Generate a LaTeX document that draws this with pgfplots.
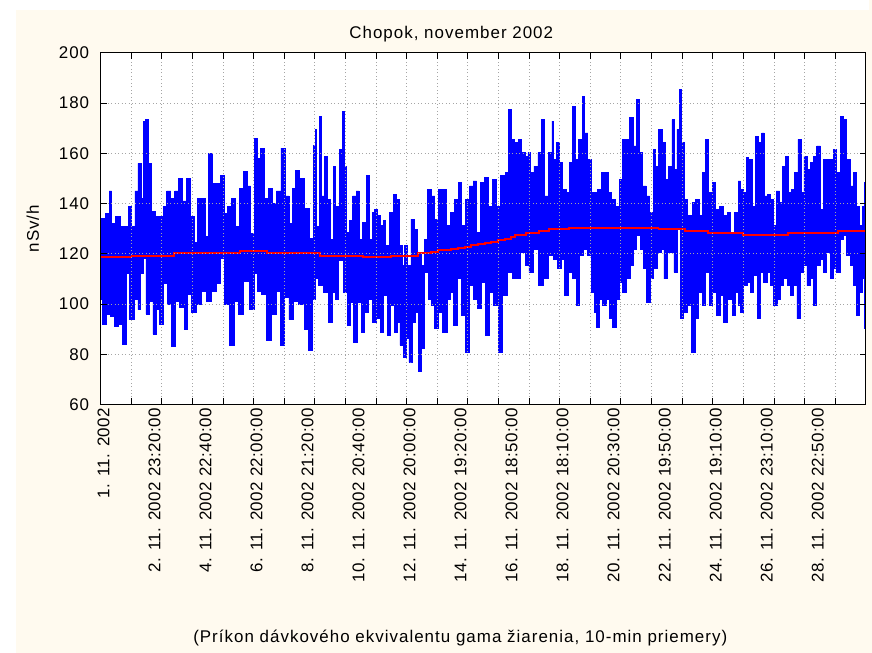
\documentclass[border=0pt]{standalone}
\usepackage{fontspec}
\setmainfont{Liberation Sans}[LetterSpace=6]
\newfontfamily\tickfamily{Liberation Sans}[LetterSpace=2.5]
\usepackage{pgfplots}
\pgfplotsset{compat=1.18}
\usepackage{pgfplotstable}
\usepgfplotslibrary{fillbetween}
\definecolor{panel}{RGB}{255,250,239}
\definecolor{gridc}{RGB}{165,165,165}
\newcommand{\chartfont}{\fontsize{17bp}{20bp}\selectfont}
\newcommand{\tickfont}{\tickfamily\fontsize{17bp}{20bp}\selectfont}

% upper envelope of the 10-min series (px = image column, val = nSv/h)
\pgfplotstableread{
px val
101 134
104 134
108 136
111 145
113 132
118 135
123 131
127 131
130 139
134 131
137 145
140 156
143 142
145 172.8
147 173.5
150 156
153 137
158 135
163 135
165 139
170 145
173 142
178 145
181 150
185 141
189 150
193 135
197 124.5
200 142
205 142
207 127
211 160
215 148
220 148
223 151
227 136
230 139
235 142
238 131
242 146
247 152.6
250 147
253 128
257 166
260 158
263 162
267 142
272 146
275 140
280 145
284 162
288 143
292 132
295 146
299 153
303 150
308 138
313 126
316 163
317 169.5
319 131
322 174.8
324 143
327 158.9
330 141.7
333 125.8
336 154.9
338 139
343 161.5
344 176.7
347 154.9
349 128.5
352 133.1
356 143
359 145
362 125.8
366 132.5
369 151
372 125.8
375 136.4
377 137.7
381 135.1
383 131.1
386 133.1
388 123.2
393 136.4
396 143.7
399 141.7
402 123.2
405 115.3
407 123.2
411 115.3
414 133.8
417 129.8
421 120.6
425 115.3
427 125.8
432 145.7
435 143
438 133.8
443 145.7
447 145.7
450 131.1
454 136.4
458 141.7
462 148.3
465 131.1
470 141.7
473 147
477 149
480 128.5
484 148.3
488 150.3
492 139
497 149.6
500 139
505 151
509 152.3
512 177.4
515 165.5
518 164.2
522 165.5
525 160.2
529 158.9
531 160.2
534 152.3
538 154.9
542 160.2
545 173.4
548 143
553 160.2
555 172.8
557 157.6
560 164.2
563 156.3
567 145.7
570 144.3
573 156.3
577 178.7
579 157.6
583 165.5
586 182.7
588 168.1
592 157.6
595 144.3
598 144.3
602 145.7
605 152.3
609 152.3
612 144.3
616 141.7
620 139
623 149.6
627 165.5
630 165.5
634 174.1
637 162.9
640 181.4
643 160.2
647 147
650 143
654 136.4
657 161.5
659 154.9
663 169.5
666 164.2
669 149.6
673 154.9
676 173.4
678 153.6
681 169.5
683 185.3
685 164.2
688 141.7
693 135.1
697 140.4
700 141.7
704 135.1
707 152.3
710 165.5
713 144.3
717 148.3
720 137.7
725 139
728 135.1
732 136.4
735 128.5
740 136.4
742 149
745 145.7
748 144.3
750 158.2
753 157.6
757 139
760 166.8
763 164.2
766 168.1
768 143
772 143.7
775 141.7
777 131.1
781 145
784 140.4
787 154.9
789 158.9
793 144.3
796 145.7
799 152.3
803 165.5
806 144.3
808 158.9
812 153.6
815 156.3
818 158.9
822 162.9
825 137.7
828 157.6
832 157.6
835 157.6
838 161.5
842 152.3
845 174.8
848 173.4
852 157.6
855 147
858 152.3
862 139
864 131.1
867 139
869 148.3
}\upperenv

% lower envelope
\pgfplotstableread{
px val
101 102
105 92
108 96
113 95
117 91
120 92
125 84
128 112
132 93.8
137 101.7
140 97.8
142 112
145 118
148 96
152 101
155 88
158 97.8
162 92
167 108
170 100
175 83
178 101
183 98.6
187 90
190 104
195 96.5
200 100
205 105
210 101
215 105
220 108
223 118
227 100
233 83.5
237 101
242 96
247 109
253 97.8
257 112
260 105
265 104
270 85.6
275 96
280 105
283 83.5
288 102.7
292 93.8
297 101
303 100
308 90
312 81.7
315 102
318 110
322 107.3
327 104.7
332 92.8
335 104.7
338 102
342 117.2
347 104.7
350 91.5
353 100.7
357 84.9
361 100.7
364 88.8
368 96.8
372 102
376 92.8
380 94.1
383 88.8
387 103.4
390 87.5
394 99.4
397 88.8
400 92.8
403 83.5
407 78.9
409 86.2
412 76.9
415 92.8
418 96.8
422 73
425 82.2
428 112.6
432 102
435 99.4
438 90.2
442 96.8
447 88.8
451 102
454 104.7
457 91.5
462 110
465 95.4
470 80.9
473 107.3
477 102
482 98.1
485 108.7
490 87.5
493 104.7
498 99.4
502 80.9
507 103.4
512 112.6
517 110
520 110
525 120.6
529 115.3
533 112.6
538 121.9
543 107.3
548 110
553 119.2
558 117.9
562 114
565 117.9
568 103.4
573 112.6
577 110
580 99.4
583 119.2
588 121.9
592 119.2
595 104.7
598 96.8
600 90.8
603 102
607 99.4
610 102
613 94.1
617 90.8
620 102
623 108.7
627 104.7
631 110
634 115.3
637 121.9
641 127.2
644 121.9
647 114
651 100.7
654 110
657 114
662 120.6
665 121.9
668 110
672 120.6
675 120.6
678 112.6
682 129.8
684 94.1
688 96.8
693 99.4
696 80.9
700 94.1
703 104.7
707 99.4
710 112.6
714 99.4
717 104.7
721 95.4
725 103.4
728 92.8
733 102
737 95.4
740 104.7
742 99.4
745 96.8
748 107.3
752 108.7
755 104.7
758 111.3
762 94.1
765 112.6
768 108.7
772 112.6
775 107.3
778 99.4
782 102
785 107.3
788 110
792 107.3
795 103.4
798 107.3
802 94.1
805 112.6
808 115.3
812 107.3
815 110
818 99.4
822 115.3
825 117.9
828 112.6
832 120.6
835 110
838 114
842 112.6
845 125.8
848 127.2
852 119.2
855 115.3
858 107.3
861 95.4
864 104.7
867 110
869 90.2
}\lowerenv

% smoothed trend (red), step ends listed explicitly
\pgfplotstableread{
px val
101 118.6
132 118.6
132 119.3
175 119.3
175 120.2
241 120.2
241 121.0
268 121.0
268 120.2
321 120.2
321 119.3
364 119.3
364 118.6
392 118.6
392 119.3
420 119.3
420 120.2
433 120.2
433 120.8
440 120.8
440 121.3
447 121.3
447 121.6
453 121.6
453 122.0
460 122.0
460 122.3
467 122.3
467 122.8
473 122.8
473 123.3
480 123.3
480 123.7
487 123.7
487 124.2
493 124.2
493 124.8
500 124.8
500 125.5
507 125.5
507 126.0
513 126.0
513 126.5
517 126.5
517 127.4
528 127.4
528 128.2
541 128.2
541 129.0
551 129.0
551 129.8
571 129.8
571 130.4
661 130.4
661 129.8
688 129.8
688 128.9
711 128.9
711 128.2
746 128.2
746 127.3
791 127.3
791 128.2
841 128.2
841 128.9
869 128.9
}\trendline

\pagecolor{panel}
\begin{document}
\begin{tikzpicture}
\path (-101bp,-249bp) rectangle (771bp,406bp);
\fill[white] (-101bp,-249bp) rectangle (-85bp,406bp);
\fill[white] (-101bp,396bp) rectangle (771bp,406bp);
\begin{axis}[
  at={(0,0)}, anchor=south west,
  scale only axis, width=768bp, height=353bp,
  xmin=0, xmax=30, ymin=60, ymax=200,
  axis background/.style={fill=white},
  axis line style={line width=1bp, black},
  axis on top,
  tick align=inside, tick pos=both,
  major tick length=6bp,
  every tick/.style={black, line width=0.8bp},
  xtick={0,1.2,2.4,3.6,4.8,6,7.2,8.4,9.6,10.8,12,13.2,14.4,15.6,16.8,18,19.2,20.4,21.6,22.8,24,25.2,26.4,27.6,28.8,30},
  xticklabels={},
  extra x ticks={0,2,4,6,8,10,12,14,16,18,20,22,24,26,28},
  extra x tick labels={1. 11. 2002,2. 11. 2002 23:20:00,4. 11. 2002 22:40:00,6. 11. 2002 22:00:00,8. 11. 2002 21:20:00,10. 11. 2002 20:40:00,12. 11. 2002 20:00:00,14. 11. 2002 19:20:00,16. 11. 2002 18:50:00,18. 11. 2002 18:10:00,20. 11. 2002 20:30:00,22. 11. 2002 19:50:00,24. 11. 2002 19:10:00,26. 11. 2002 23:10:00,28. 11. 2002 22:50:00},
  extra x tick style={grid=none, major tick length=0pt},
  xticklabel style={rotate=90, anchor=east, font=\tickfont, yshift=-3bp},
  ytick={60,80,100,120,140,160,180,200},
  yticklabel style={font=\chartfont, xshift=-8bp},
  /pgf/number format/assume math mode=true,
  grid=major,
  major grid style={gridc, line width=0.8bp, dash pattern=on 1bp off 2.5bp},
  title={Chopok, november 2002},
  title style={at={(axis description cs:0.4583,1.0369)}, anchor=center, yshift=0pt, font=\chartfont},
  xlabel={(Príkon dávkového ekvivalentu gama žiarenia, 10-min priemery)},
  xlabel style={at={(axis description cs:0.4701,-0.6629)}, anchor=center, font=\chartfont},
  ylabel={nSv/h},
  ylabel style={at={(axis description cs:-0.0885,0.5)}, anchor=center, font=\chartfont},
]
\addplot[blue, line width=0.8bp, const plot mark mid, name path=up] table[x expr={(\thisrow{px}-101)*0.0390625}, y=val] {\upperenv};
\addplot[blue, line width=0.8bp, const plot mark mid, name path=lo] table[x expr={(\thisrow{px}-101)*0.0390625}, y=val] {\lowerenv};
\addplot[blue] fill between[of=up and lo];
\addplot[red, line width=2bp] table[x expr={(\thisrow{px}-101)*0.0390625}, y=val] {\trendline};
\end{axis}
\end{tikzpicture}
\end{document}
